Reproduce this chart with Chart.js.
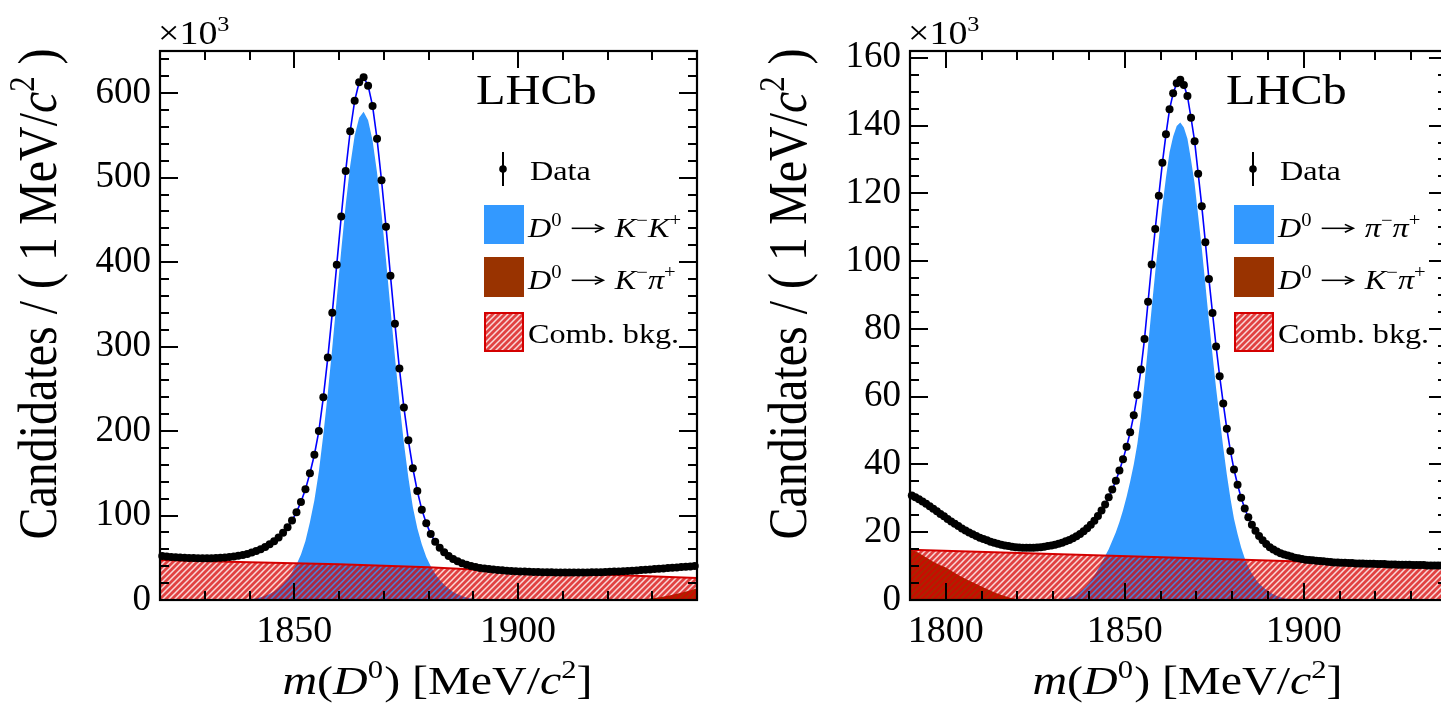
<!DOCTYPE html>
<html><head><meta charset="utf-8">
<script src="https://cdn.jsdelivr.net/npm/chart.js@4.4.0/dist/chart.umd.min.js"></script>
<style>
html,body{margin:0;padding:0;background:#fff;overflow:hidden;width:1441px;height:707px;position:relative;}
#c1{position:absolute;left:0;top:0;}
#c2{position:absolute;left:720px;top:0;}
</style></head><body>
<canvas id="c1" width="720" height="707"></canvas>
<canvas id="c2" width="760" height="707"></canvas>
<script>
// ---------------- DATA (values in units of 10^3 candidates per 1 MeV/c^2 bin) ----------------
// Left panel: D0 -> K-K+
const kkBinLow = 1820;           // first bin lower edge, bins 1 MeV wide
const kkData = [
  52, 51.5, 51, 50.6, 50.3, 50, 49.8, 49.6, 49.5, 49.4,
  49.4, 49.5, 49.7, 50, 50.4, 50.9, 51.5, 52.3, 53.3, 54.6,
  56.2, 58, 60.2, 62.8, 66, 69.5, 74, 79.5, 86, 94,
  104, 116, 131, 150, 172, 200, 240, 287, 340, 397,
  454, 508, 555, 591, 613, 619, 609, 585, 546, 497,
  442, 384, 327, 274, 228, 189, 156, 129, 107, 91,
  78, 69, 62, 56.5, 52, 48.5, 45.8, 43.5, 41.7, 40.2,
  39, 38, 37.2, 36.6, 36, 35.5, 35.1, 34.7, 34.4, 34.1,
  33.8, 33.6, 33.4, 33.2, 33.1, 33, 32.9, 32.8, 32.7, 32.7,
  32.6, 32.6, 32.6, 32.6, 32.6, 32.7, 32.8, 32.9, 33, 33.2,
  33.4, 33.6, 33.8, 34.1, 34.4, 34.7, 35, 35.4, 35.8, 36.2,
  36.6, 37, 37.4, 37.8, 38.2, 38.6, 39, 39.4, 39.8, 40.2
];
const kkSigLow = 1838;           // signal component, first bin lower edge
const kkSig = [
  0.4, 0.7, 1.2, 2, 3.2, 5, 7, 10, 14, 19,
  25, 33, 42, 54, 70, 92, 118, 152, 196, 245,
  299, 357, 414, 468, 514, 550, 571, 578, 568, 544,
  506, 458, 403, 345, 288, 234, 186, 145, 110, 85,
  66, 51, 40, 31, 24, 18, 13.5, 9.5, 6.8, 4.7,
  3, 1.9, 1.1, 0.6, 0.3
];
const kkCombX = [1820, 1840, 1860, 1880, 1900, 1920, 1940];
const kkCombY = [47.5, 44.8, 42.2, 38.8, 33.5, 30, 26];
const kkMisX = [1926, 1928, 1930, 1932, 1934, 1936, 1938, 1940];
const kkMisY = [0, 0.8, 2, 3.6, 5.6, 8, 10.8, 14];
const kkXLabels = [1850, 1900];
const kkXMinor = [1830, 1840, 1850, 1860, 1870, 1880, 1890, 1900, 1910, 1920, 1930];
const kkYLabels = [0, 100, 200, 300, 400, 500, 600];
const kkYMinor = [20,40,60,80,100,120,140,160,180,200,220,240,260,280,300,320,340,360,380,400,420,440,460,480,500,520,540,560,580,600,620,640];

// Right panel: D0 -> pi-pi+
const ppBinLow = 1790;
const ppData = [
  30.8, 30.3, 29.7, 29.1, 28.4, 27.7, 26.9, 26.2, 25.4, 24.7,
  23.9, 23.2, 22.5, 21.8, 21.1, 20.5, 19.9, 19.4, 18.9, 18.4,
  18, 17.6, 17.2, 16.9, 16.6, 16.3, 16.1, 15.9, 15.7, 15.6,
  15.5, 15.4, 15.4, 15.4, 15.4, 15.5, 15.6, 15.7, 15.9, 16.1,
  16.3, 16.6, 16.9, 17.3, 17.7, 18.2, 18.8, 19.5, 20.3, 21.2,
  22.2, 23.4, 24.8, 26.4, 28.2, 30.3, 32.6, 35.2, 38.2, 41.5,
  45.2, 49.5, 54.5, 60.5, 68, 77, 88, 99, 109.5, 119.3,
  129, 137.4, 144.8, 149.5, 152.5, 153.5, 152, 148.7, 142.3, 135.4,
  125.8, 116.2, 105.6, 94.7, 84.7, 74.8, 66, 58, 50.5, 44,
  38.5, 34, 30.2, 27, 24.4, 22.2, 20.4, 18.9, 17.6, 16.5,
  15.6, 14.9, 14.3, 13.8, 13.4, 13.1, 12.8, 12.5, 12.3, 12.1,
  11.9, 11.8, 11.7, 11.6, 11.5, 11.4, 11.3, 11.2, 11.1, 11.1,
  11, 11, 10.9, 10.9, 10.8, 10.8, 10.8, 10.7, 10.7, 10.7,
  10.6, 10.6, 10.6, 10.5, 10.5, 10.5, 10.4, 10.4, 10.4, 10.4,
  10.3, 10.3, 10.3, 10.3, 10.2, 10.2, 10.2, 10.2, 10.2, 10.1
];
const ppSigLow = 1830;
const ppSig = [
  0.05, 0.15, 0.3, 0.5, 0.8, 1.2, 1.7, 2.4, 3.3, 4.4,
  5.7, 7.2, 9, 11, 13, 15, 17.5, 20, 23, 26.5,
  30.5, 35, 40, 46, 54, 64, 75, 86, 96.7, 106.5,
  116.2, 124.7, 132.1, 136.8, 139.9, 140.9, 139.4, 136.1, 129.8, 122.9,
  113.3, 103.8, 93.2, 82.3, 72.4, 62.5, 53.7, 45, 37, 30,
  24, 19.5, 15.5, 12.3, 9.8, 7.8, 6.2, 4.9, 3.9, 3,
  2.3, 1.7, 1.2, 0.8, 0.5, 0.3, 0.15
];
const ppCombX = [1790, 1865, 1940];
const ppCombY = [14.8, 12.5, 10.0];
const ppMisX = [1790, 1792, 1794, 1796, 1798, 1800, 1802, 1804, 1806, 1808, 1810, 1812, 1814, 1816, 1818, 1820, 1822, 1825];
const ppMisY = [15, 14.2, 12.9, 11.6, 10.5, 9.6, 8.3, 7.1, 6, 5, 4, 3, 2.1, 1.3, 0.7, 0.3, 0.1, 0];
const ppXLabels = [1800, 1850, 1900];
const ppXMinor = [1800, 1810, 1820, 1830, 1840, 1850, 1860, 1870, 1880, 1890, 1900, 1910, 1920, 1930];
const ppYLabels = [0, 20, 40, 60, 80, 100, 120, 140, 160];
const ppYMinor = [5,10,15,20,25,30,35,40,45,50,55,60,65,70,75,80,85,90,95,100,105,110,115,120,125,130,135,140,145,150,155,160];

// ---------------- helpers ----------------
const FF = '"Liberation Serif", "Times New Roman", serif';
const binned = (low, vals) => vals.map((v, i) => ({ x: low + i + 0.5, y: v }));
const paired = (xs, ys) => xs.map((x, i) => ({ x: x, y: ys[i] }));

function makeHatch() {
  const n = 6;
  const p = document.createElement('canvas'); p.width = n; p.height = n;
  const g = p.getContext('2d');
  g.fillStyle = 'rgba(214,0,0,0.74)'; g.fillRect(0, 0, n, n);
  g.globalCompositeOperation = 'destination-out';
  g.strokeStyle = 'rgba(0,0,0,0.8)'; g.lineWidth = 1.5;
  g.beginPath();
  g.moveTo(-2, n + 2); g.lineTo(n + 2, -2);
  g.moveTo(-2, 2); g.lineTo(2, -2);
  g.moveTo(n - 2, n + 2); g.lineTo(n + 2, n - 2);
  g.stroke();
  return document.createElement('canvas').getContext('2d').createPattern(p, 'repeat');
}
const hatch = makeHatch();

// rich text: parts = [text, style, extraSpacing]; style: 'i' italic, '^' superscript, 'a' drawn arrow
function fontFor(p, size) {
  const s = p[1] || '';
  const fs = s.includes('^') ? size * 0.64 : size;
  return (s.includes('i') ? 'italic ' : '') + fs.toFixed(1) + 'px ' + FF;
}
function partWidth(ctx, p, size) {
  if ((p[1] || '') === 'a') return size * 1.62;
  ctx.font = fontFor(p, size);
  return ctx.measureText(p[0]).width + (p[2] || 0);
}
function richWidth(ctx, parts, size) {
  let w = 0;
  for (const p of parts) w += partWidth(ctx, p, size);
  return w;
}
function drawRich(ctx, parts, x, y, size, sx, sy, align) {
  ctx.save(); ctx.translate(x, y); ctx.scale(sx, sy);
  ctx.textBaseline = 'alphabetic'; ctx.textAlign = 'left'; ctx.fillStyle = '#000';
  const w = richWidth(ctx, parts, size);
  let cx = align === 'center' ? -w / 2 : 0;
  for (const p of parts) {
    const s = p[1] || '';
    if (s === 'a') {
      const x0 = cx + size * 0.28, x1 = x0 + size * 0.98, ay = -size * 0.31;
      ctx.strokeStyle = '#000'; ctx.lineWidth = size * 0.055;
      ctx.beginPath(); ctx.moveTo(x0, ay); ctx.lineTo(x1 - 1, ay); ctx.stroke();
      ctx.beginPath(); ctx.moveTo(x1 - size * 0.26, ay - size * 0.14); ctx.lineTo(x1, ay); ctx.lineTo(x1 - size * 0.26, ay + size * 0.14); ctx.stroke();
    } else {
      ctx.font = fontFor(p, size);
      const dy = s.includes('^') ? -size * 0.40 : 0;
      ctx.fillText(p[0], cx, dy);
    }
    cx += partWidth(ctx, p, size);
  }
  ctx.restore();
}

const frameTicks = {
  id: 'frameTicks',
  afterDatasetsDraw(chart) {
    const o = chart.options.plugins.frameTicks;
    const { ctx, chartArea: a, scales: { x, y } } = chart;
    ctx.save();
    ctx.strokeStyle = '#000'; ctx.lineWidth = 2;
    ctx.beginPath();
    for (const v of o.xMinor) {
      const px = Math.round(x.getPixelForValue(v));
      const L = o.xMajor.includes(v) ? 17 : 9;
      ctx.moveTo(px, a.bottom); ctx.lineTo(px, a.bottom - L);
      ctx.moveTo(px, a.top); ctx.lineTo(px, a.top + L);
    }
    for (const v of o.yMinor) {
      const py = Math.round(y.getPixelForValue(v));
      const L = o.yMajor.includes(v) ? 18 : 9;
      ctx.moveTo(a.left, py); ctx.lineTo(a.left + L, py);
      ctx.moveTo(a.right, py); ctx.lineTo(a.right - L, py);
    }
    ctx.stroke();
    ctx.lineWidth = 2.2;
    ctx.strokeRect(a.left, a.top, a.right - a.left, a.bottom - a.top);
    ctx.restore();
  }
};

const annot = {
  id: 'annot',
  afterDraw(chart) {
    const o = chart.options.plugins.annot;
    const { ctx, chartArea: a } = chart;
    const L = a.left, R = a.right;
    const SX = 1.15;
    // x10^3
    drawRich(ctx, [['×10'], ['3', '^']], L - 2, 44, 33, SX, 1, 'left');
    // LHCb
    drawRich(ctx, [['LHCb']], R - 221, 104, 42, SX, 1, 'left');
    // legend: Data marker and boxes
    ctx.save();
    ctx.strokeStyle = '#000'; ctx.lineWidth = 2;
    ctx.beginPath(); ctx.moveTo(R - 194, 152); ctx.lineTo(R - 194, 186); ctx.stroke();
    ctx.fillStyle = '#000'; ctx.beginPath(); ctx.arc(R - 194, 169, 3.8, 0, Math.PI * 2); ctx.fill();
    ctx.fillStyle = '#3399ff'; ctx.fillRect(R - 213, 205, 40, 39);
    ctx.fillStyle = '#993300'; ctx.fillRect(R - 213, 257, 40, 40);
    ctx.fillStyle = '#fff'; ctx.fillRect(R - 213, 312, 40, 40);
    ctx.fillStyle = hatch; ctx.fillRect(R - 213, 312, 40, 40);
    ctx.strokeStyle = '#d40000'; ctx.lineWidth = 2; ctx.strokeRect(R - 212, 313, 38, 38);
    ctx.restore();
    drawRich(ctx, [['Data']], R - 167, 180, 28, SX, 1, 'left');
    drawRich(ctx, o.sigLabel, R - 169, 237, 28, SX, 1, 'left');
    drawRich(ctx, [['D', 'i'], ['0', '^', 1], ['', 'a'], ['K', 'i'], ['−', '^'], ['π', 'i'], ['+', '^']], R - 169, 289, 28, SX, 1, 'left');
    drawRich(ctx, [['Comb. bkg.']], R - 169, 343, 28, SX, 1, 'left');
    // y title
    ctx.save();
    ctx.translate(L - 104, 294); ctx.rotate(-Math.PI / 2);
    drawRich(ctx, [['Candidates / ( 1 MeV/'], ['c', 'i'], ['2', '^'], [' )']], 0, 0, 48, 1, 1.15, 'center');
    ctx.restore();
    // x title
    drawRich(ctx, [['m', 'i'], ['('], ['D', 'i'], ['0', '^', 1], [') [MeV/'], ['c', 'i'], ['2', '^'], [']']], (L + R) / 2 + 9, 694, 41, 1.17, 1, 'center');
  }
};

function build(id, c) {
  const ctx = document.getElementById(id).getContext('2d');
  return new Chart(ctx, {
    type: 'line',
    data: {
      datasets: [
        { label: 'Data', data: c.data, showLine: true, borderColor: '#0000ff', borderWidth: 1.6,
          pointRadius: 4, pointHoverRadius: 4, pointBackgroundColor: '#000', pointBorderWidth: 0,
          fill: false, tension: 0, order: 0, clip: false },
        { label: 'Comb. bkg.', data: c.comb, borderColor: '#d40000', borderWidth: 2, pointRadius: 0,
          fill: 'origin', backgroundColor: hatch, tension: 0, order: 1 },
        { label: 'misID', data: c.mis, borderColor: 'rgba(0,0,0,0)', borderWidth: 0, pointRadius: 0,
          fill: 'origin', backgroundColor: '#993300', tension: 0, order: 2 },
        { label: 'Signal', data: c.sig, borderColor: 'rgba(0,0,0,0)', borderWidth: 0, pointRadius: 0,
          fill: 'origin', backgroundColor: '#3399ff', tension: 0, order: 3 }
      ]
    },
    options: {
      responsive: false, animation: false, devicePixelRatio: 1, events: [],
      layout: { padding: { top: 51, right: c.padR, left: 0, bottom: 0 } },
      plugins: {
        legend: { display: false }, tooltip: { enabled: false },
        frameTicks: { xMinor: c.xMinor, xMajor: c.xLabels, yMinor: c.yMinor, yMajor: c.yLabels },
        annot: { sigLabel: c.sigLabel }
      },
      scales: {
        x: {
          type: 'linear', min: c.xmin, max: c.xmax,
          grid: { display: false, drawTicks: false }, border: { display: false },
          afterBuildTicks: s => { s.ticks = c.xLabels.map(v => ({ value: v })); },
          afterFit: s => { s.height = 107; },
          ticks: { font: { family: FF, size: 38 }, color: '#000', padding: 9, maxRotation: 0, autoSkip: false,
                   callback: v => String(v) }
        },
        y: {
          type: 'linear', min: 0, max: c.ymax,
          grid: { display: false, drawTicks: false }, border: { display: false },
          afterBuildTicks: s => { s.ticks = c.yLabels.map(v => ({ value: v })); },
          afterFit: s => { s.width = c.yw; },
          ticks: { font: { family: FF, size: 37 }, color: '#000', padding: 9, autoSkip: false,
                   callback: v => String(v) }
        }
      }
    },
    plugins: [frameTicks, annot]
  });
}

build('c1', {
  data: binned(kkBinLow, kkData), sig: binned(kkSigLow, kkSig),
  comb: paired(kkCombX, kkCombY), mis: paired(kkMisX, kkMisY),
  xmin: 1820, xmax: 1940, ymax: 650, yw: 160, padR: 23,
  xLabels: kkXLabels, xMinor: kkXMinor, yLabels: kkYLabels, yMinor: kkYMinor,
  sigLabel: [['D', 'i'], ['0', '^', 1], ['', 'a'], ['K', 'i'], ['−', '^'], ['K', 'i'], ['+', '^']]
});
build('c2', {
  data: binned(ppBinLow, ppData), sig: binned(ppSigLow, ppSig),
  comb: paired(ppCombX, ppCombY), mis: paired(ppMisX, ppMisY),
  xmin: 1790, xmax: 1940, ymax: 162, yw: 190, padR: 33,
  xLabels: ppXLabels, xMinor: ppXMinor, yLabels: ppYLabels, yMinor: ppYMinor,
  sigLabel: [['D', 'i'], ['0', '^', 1], ['', 'a'], ['π', 'i'], ['−', '^'], ['π', 'i'], ['+', '^']]
});
</script>
</body></html>
